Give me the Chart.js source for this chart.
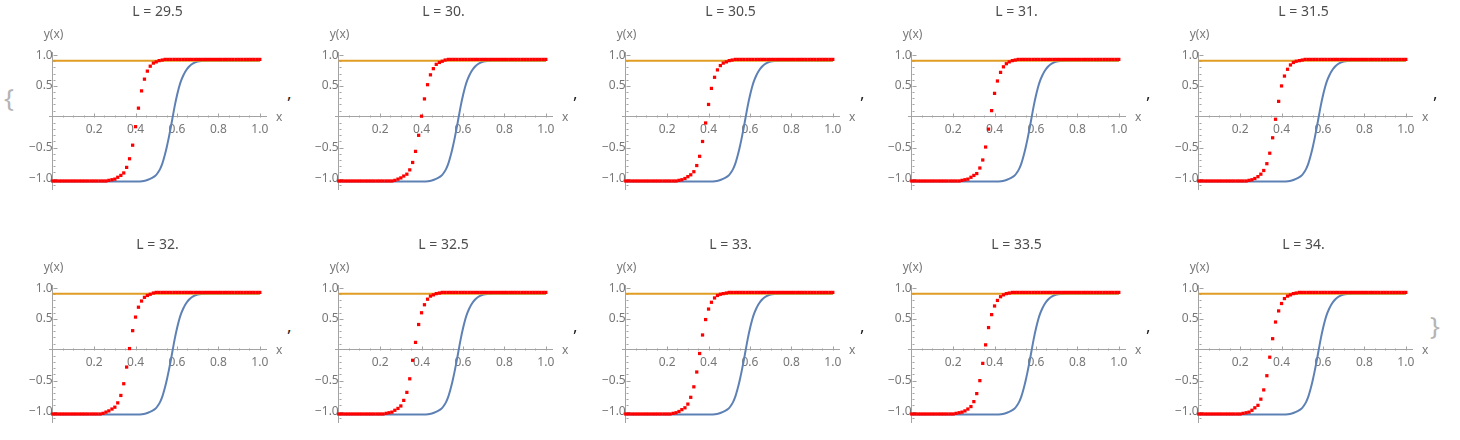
<!DOCTYPE html>
<html>
<head>
<meta charset="utf-8">
<script src="https://cdn.jsdelivr.net/npm/chart.js@4.4.0/dist/chart.umd.min.js"></script>
<style>
  body { margin: 0; background: #fff; width: 1460px; height: 440px; overflow: hidden; position: relative; font-family: "Noto Sans", sans-serif; }
  .panel { position: absolute; }
  .sep { position: absolute; font-size: 17px; line-height: 17px; color: #222; }
  .brace { position: absolute; font-size: 26px; line-height: 26px; color: #b4b4b4; }
</style>
</head>
<body>
<span class="brace" style="left:4px;top:84px">{</span>
<span class="brace" style="left:1430px;top:312px">}</span>
<script>
// plot labels (L values) in list order
const lValues = ['29.5', '30.', '30.5', '31.', '31.5', '32.', '32.5', '33.', '33.5', '34.'];

// sample positions of the red points (same for every panel)
const xGrid = [
  0, 0.014, 0.029, 0.043, 0.057, 0.071, 0.086, 0.1, 0.114, 0.129,
  0.143, 0.157, 0.171, 0.186, 0.2, 0.214, 0.229, 0.243, 0.257, 0.271,
  0.286, 0.3, 0.314, 0.329, 0.343, 0.357, 0.371, 0.386, 0.4, 0.414,
  0.429, 0.443, 0.457, 0.471, 0.486, 0.5, 0.514, 0.529, 0.543, 0.557,
  0.571, 0.586, 0.6, 0.614, 0.629, 0.643, 0.657, 0.671, 0.686, 0.7,
  0.714, 0.729, 0.743, 0.757, 0.771, 0.786, 0.8, 0.814, 0.829, 0.843,
  0.857, 0.871, 0.886, 0.9, 0.914, 0.929, 0.943, 0.957, 0.971, 0.986,
  1.0
];

// red points, one array per L
const dots29_5 = [
  -1.04, -1.04, -1.04, -1.04, -1.04, -1.04, -1.04, -1.04, -1.04, -1.04,
  -1.04, -1.04, -1.04, -1.04, -1.04, -1.04, -1.04, -1.04, -1.04, -1.03,
  -1.02, -1.01, -0.98, -0.95, -0.91, -0.82, -0.68, -0.46, -0.16, 0.14,
  0.42, 0.61, 0.74, 0.82, 0.87, 0.89, 0.91, 0.92, 0.93, 0.93,
  0.93, 0.93, 0.93, 0.93, 0.93, 0.93, 0.93, 0.93, 0.93, 0.93,
  0.93, 0.93, 0.93, 0.93, 0.93, 0.93, 0.93, 0.93, 0.93, 0.93,
  0.93, 0.93, 0.93, 0.93, 0.93, 0.93, 0.93, 0.93, 0.93, 0.93,
  0.93
];
const dots30 = [
  -1.04, -1.04, -1.04, -1.04, -1.04, -1.04, -1.04, -1.04, -1.04, -1.04,
  -1.04, -1.04, -1.04, -1.04, -1.04, -1.04, -1.04, -1.04, -1.04, -1.03,
  -1.01, -0.99, -0.96, -0.93, -0.86, -0.74, -0.56, -0.30, 0.01, 0.29,
  0.52, 0.68, 0.78, 0.85, 0.88, 0.90, 0.92, 0.93, 0.93, 0.93,
  0.93, 0.93, 0.93, 0.93, 0.93, 0.93, 0.93, 0.93, 0.93, 0.93,
  0.93, 0.93, 0.93, 0.93, 0.93, 0.93, 0.93, 0.93, 0.93, 0.93,
  0.93, 0.93, 0.93, 0.93, 0.93, 0.93, 0.93, 0.93, 0.93, 0.93,
  0.93
];
const dots30_5 = [
  -1.04, -1.04, -1.04, -1.04, -1.04, -1.04, -1.04, -1.04, -1.04, -1.04,
  -1.04, -1.04, -1.04, -1.04, -1.04, -1.04, -1.04, -1.04, -1.03, -1.02,
  -1.00, -0.97, -0.94, -0.89, -0.79, -0.64, -0.40, -0.10, 0.20, 0.46,
  0.64, 0.76, 0.83, 0.87, 0.89, 0.91, 0.92, 0.93, 0.93, 0.93,
  0.93, 0.93, 0.93, 0.93, 0.93, 0.93, 0.93, 0.93, 0.93, 0.93,
  0.93, 0.93, 0.93, 0.93, 0.93, 0.93, 0.93, 0.93, 0.93, 0.93,
  0.93, 0.93, 0.93, 0.93, 0.93, 0.93, 0.93, 0.93, 0.93, 0.93,
  0.93
];
const dots31 = [
  -1.04, -1.04, -1.04, -1.04, -1.04, -1.04, -1.04, -1.04, -1.04, -1.04,
  -1.04, -1.04, -1.04, -1.04, -1.04, -1.04, -1.04, -1.03, -1.02, -1.01,
  -0.98, -0.95, -0.92, -0.83, -0.70, -0.49, -0.20, 0.10, 0.38, 0.58,
  0.72, 0.81, 0.86, 0.89, 0.91, 0.92, 0.93, 0.93, 0.93, 0.93,
  0.93, 0.93, 0.93, 0.93, 0.93, 0.93, 0.93, 0.93, 0.93, 0.93,
  0.93, 0.93, 0.93, 0.93, 0.93, 0.93, 0.93, 0.93, 0.93, 0.93,
  0.93, 0.93, 0.93, 0.93, 0.93, 0.93, 0.93, 0.93, 0.93, 0.93,
  0.93
];
const dots31_5 = [
  -1.04, -1.04, -1.04, -1.04, -1.04, -1.04, -1.04, -1.04, -1.04, -1.04,
  -1.04, -1.04, -1.04, -1.04, -1.04, -1.04, -1.04, -1.03, -1.02, -1.00,
  -0.97, -0.93, -0.87, -0.76, -0.59, -0.34, -0.04, 0.25, 0.50, 0.66,
  0.77, 0.84, 0.88, 0.90, 0.91, 0.92, 0.93, 0.93, 0.93, 0.93,
  0.93, 0.93, 0.93, 0.93, 0.93, 0.93, 0.93, 0.93, 0.93, 0.93,
  0.93, 0.93, 0.93, 0.93, 0.93, 0.93, 0.93, 0.93, 0.93, 0.93,
  0.93, 0.93, 0.93, 0.93, 0.93, 0.93, 0.93, 0.93, 0.93, 0.93,
  0.93
];
const dots32 = [
  -1.04, -1.04, -1.04, -1.04, -1.04, -1.04, -1.04, -1.04, -1.04, -1.04,
  -1.04, -1.04, -1.04, -1.04, -1.04, -1.04, -1.04, -1.03, -1.01, -0.99,
  -0.96, -0.93, -0.86, -0.74, -0.55, -0.28, 0.02, 0.31, 0.53, 0.69,
  0.79, 0.85, 0.88, 0.90, 0.92, 0.93, 0.93, 0.93, 0.93, 0.93,
  0.93, 0.93, 0.93, 0.93, 0.93, 0.93, 0.93, 0.93, 0.93, 0.93,
  0.93, 0.93, 0.93, 0.93, 0.93, 0.93, 0.93, 0.93, 0.93, 0.93,
  0.93, 0.93, 0.93, 0.93, 0.93, 0.93, 0.93, 0.93, 0.93, 0.93,
  0.93
];
const dots32_5 = [
  -1.04, -1.04, -1.04, -1.04, -1.04, -1.04, -1.04, -1.04, -1.04, -1.04,
  -1.04, -1.04, -1.04, -1.04, -1.04, -1.04, -1.03, -1.02, -1.01, -0.98,
  -0.95, -0.91, -0.82, -0.69, -0.47, -0.17, 0.12, 0.41, 0.60, 0.73,
  0.82, 0.87, 0.89, 0.91, 0.92, 0.93, 0.93, 0.93, 0.93, 0.93,
  0.93, 0.93, 0.93, 0.93, 0.93, 0.93, 0.93, 0.93, 0.93, 0.93,
  0.93, 0.93, 0.93, 0.93, 0.93, 0.93, 0.93, 0.93, 0.93, 0.93,
  0.93, 0.93, 0.93, 0.93, 0.93, 0.93, 0.93, 0.93, 0.93, 0.93,
  0.93
];
const dots33 = [
  -1.04, -1.04, -1.04, -1.04, -1.04, -1.04, -1.04, -1.04, -1.04, -1.04,
  -1.04, -1.04, -1.04, -1.04, -1.04, -1.04, -1.03, -1.02, -1.00, -0.97,
  -0.94, -0.88, -0.77, -0.60, -0.36, -0.06, 0.24, 0.49, 0.66, 0.77,
  0.84, 0.88, 0.90, 0.91, 0.92, 0.93, 0.93, 0.93, 0.93, 0.93,
  0.93, 0.93, 0.93, 0.93, 0.93, 0.93, 0.93, 0.93, 0.93, 0.93,
  0.93, 0.93, 0.93, 0.93, 0.93, 0.93, 0.93, 0.93, 0.93, 0.93,
  0.93, 0.93, 0.93, 0.93, 0.93, 0.93, 0.93, 0.93, 0.93, 0.93,
  0.93
];
const dots33_5 = [
  -1.04, -1.04, -1.04, -1.04, -1.04, -1.04, -1.04, -1.04, -1.04, -1.04,
  -1.04, -1.04, -1.04, -1.04, -1.04, -1.03, -1.02, -1.01, -0.99, -0.96,
  -0.92, -0.84, -0.71, -0.50, -0.22, 0.08, 0.36, 0.57, 0.71, 0.80,
  0.86, 0.89, 0.91, 0.92, 0.93, 0.93, 0.93, 0.93, 0.93, 0.93,
  0.93, 0.93, 0.93, 0.93, 0.93, 0.93, 0.93, 0.93, 0.93, 0.93,
  0.93, 0.93, 0.93, 0.93, 0.93, 0.93, 0.93, 0.93, 0.93, 0.93,
  0.93, 0.93, 0.93, 0.93, 0.93, 0.93, 0.93, 0.93, 0.93, 0.93,
  0.93
];
const dots34 = [
  -1.04, -1.04, -1.04, -1.04, -1.04, -1.04, -1.04, -1.04, -1.04, -1.04,
  -1.04, -1.04, -1.04, -1.04, -1.04, -1.03, -1.02, -1.01, -0.98, -0.94,
  -0.90, -0.80, -0.65, -0.42, -0.12, 0.18, 0.45, 0.63, 0.75, 0.83,
  0.87, 0.89, 0.91, 0.92, 0.93, 0.93, 0.93, 0.93, 0.93, 0.93,
  0.93, 0.93, 0.93, 0.93, 0.93, 0.93, 0.93, 0.93, 0.93, 0.93,
  0.93, 0.93, 0.93, 0.93, 0.93, 0.93, 0.93, 0.93, 0.93, 0.93,
  0.93, 0.93, 0.93, 0.93, 0.93, 0.93, 0.93, 0.93, 0.93, 0.93,
  0.93
];
const dotSeries = [dots29_5, dots30, dots30_5, dots31, dots31_5, dots32, dots32_5, dots33, dots33_5, dots34];

// blue curve (same in every panel)
const blueX = [0, 0.2, 0.4, 0.42, 0.44, 0.46, 0.48, 0.49, 0.5, 0.51, 0.52, 0.53, 0.54, 0.55, 0.56, 0.57, 0.58, 0.59, 0.6, 0.61, 0.62, 0.63, 0.64, 0.65, 0.66, 0.68, 0.7, 0.72, 0.75, 0.8, 1.0];
const blueY = [-1.05, -1.05, -1.05, -1.048, -1.04, -1.02, -0.99, -0.97, -0.94, -0.895, -0.835, -0.75, -0.635, -0.5, -0.345, -0.175, 0.01, 0.19, 0.345, 0.48, 0.585, 0.665, 0.73, 0.78, 0.82, 0.87, 0.895, 0.905, 0.91, 0.91, 0.91];

// orange horizontal line
const orangeX = [0, 1];
const orangeY = [0.91, 0.91];

// labelled ticks
const xTickLabels = [0.2, 0.4, 0.6, 0.8, 1.0];
const yTickLabels = [-1.0, -0.5, 0.5, 1.0];

const FONT = '"Noto Sans", sans-serif';
const AXIS = '#a3a3a3';
const LABEL = '#777';

const pairs = (xs, ys) => xs.map((x, i) => ({ x: x, y: ys[i] }));
const fmt = v => (v < 0 ? '\u2212' + Math.abs(v).toFixed(1) : v.toFixed(1));

// Mathematica style ticks (pointing inward) and axis names
const axisDecor = {
  id: 'axisDecor',
  beforeDatasetsDraw(chart) {
    const { ctx, chartArea, scales: { x, y } } = chart;
    const x0 = Math.round(x.getPixelForValue(0)) + 0.5;
    const y0 = Math.round(y.getPixelForValue(0)) + 0.5;
    ctx.save();
    ctx.strokeStyle = AXIS;
    ctx.lineWidth = 1;
    ctx.beginPath();
    for (let k = 1; k <= 20; k++) {
      const px = Math.round(x.getPixelForValue(k * 0.05)) + 0.5;
      const len = k % 4 === 0 ? 4 : 2;
      ctx.moveTo(px, y0);
      ctx.lineTo(px, y0 - len);
    }
    for (let k = -11; k <= 10; k++) {
      if (k === 0) continue;
      const py = Math.round(y.getPixelForValue(k / 10)) + 0.5;
      const len = k % 5 === 0 ? 4 : 2;
      ctx.moveTo(x0, py);
      ctx.lineTo(x0 + len, py);
    }
    ctx.stroke();
    ctx.fillStyle = LABEL;
    ctx.font = '12px ' + FONT;
    ctx.textAlign = 'center';
    ctx.textBaseline = 'middle';
    ctx.fillText('y(x)', x0, chartArea.top - 17);
    ctx.textAlign = 'left';
    ctx.fillText('x', chartArea.right + 10, y0);
    ctx.restore();
  }
};

const PANEL_W = 287, PANEL_H = 233, STEP_X = 286.4;

lValues.forEach((lv, i) => {
  const col = i % 5, row = Math.floor(i / 5);
  const left = Math.round(col * STEP_X), top = row * PANEL_H;
  const canvas = document.createElement('canvas');
  canvas.className = 'panel';
  canvas.width = PANEL_W;
  canvas.height = PANEL_H;
  canvas.style.left = left + 'px';
  canvas.style.top = top + 'px';
  document.body.appendChild(canvas);

  // list separators
  if (i < 9) {
    const sep = document.createElement('span');
    sep.className = 'sep';
    sep.textContent = ',';
    sep.style.left = (left + 287) + 'px';
    sep.style.top = (top + 84) + 'px';
    document.body.appendChild(sep);
  }

  new Chart(canvas, {
    type: 'scatter',
    data: {
      datasets: [
        {
          data: pairs(xGrid, dotSeries[i]),
          pointStyle: 'rect',
          pointRadius: 2.3,
          backgroundColor: '#ff0000',
          borderWidth: 0,
          showLine: false
        },
        {
          data: pairs(orangeX, orangeY),
          showLine: true,
          borderColor: '#e19c24',
          borderWidth: 2,
          pointRadius: 0
        },
        {
          data: pairs(blueX, blueY),
          showLine: true,
          borderColor: '#5e81b5',
          borderWidth: 2,
          pointRadius: 0,
          cubicInterpolationMode: 'monotone'
        }
      ]
    },
    options: {
      responsive: false,
      animation: false,
      events: [],
      layout: { padding: { left: 49, right: 21, top: 0, bottom: 44 } },
      plugins: {
        legend: { display: false },
        tooltip: { enabled: false },
        title: {
          display: true,
          text: 'L = ' + lv,
          color: '#4d4d4d',
          font: { family: FONT, size: 14, weight: 'normal' },
          padding: { top: 4, bottom: 31.2 }
        }
      },
      scales: {
        x: {
          type: 'linear',
          min: -0.018,
          max: 1.03,
          position: { y: 0 },
          grid: { display: false, drawTicks: false },
          border: { color: AXIS, width: 1 },
          afterBuildTicks: s => { s.ticks = xTickLabels.map(v => ({ value: v })); },
          ticks: { autoSkip: false, maxRotation: 0, padding: 6, color: LABEL, font: { family: FONT, size: 12 }, callback: v => fmt(v) }
        },
        y: {
          type: 'linear',
          min: -1.17,
          max: 1.05,
          position: { x: 0 },
          grid: { display: false, drawTicks: false },
          border: { color: AXIS, width: 1 },
          afterBuildTicks: s => { s.ticks = yTickLabels.map(v => ({ value: v })); },
          ticks: { autoSkip: false, padding: 7, color: LABEL, font: { family: FONT, size: 12 }, callback: v => fmt(v) }
        }
      }
    },
    plugins: [axisDecor]
  });
});
</script>
</body>
</html>
